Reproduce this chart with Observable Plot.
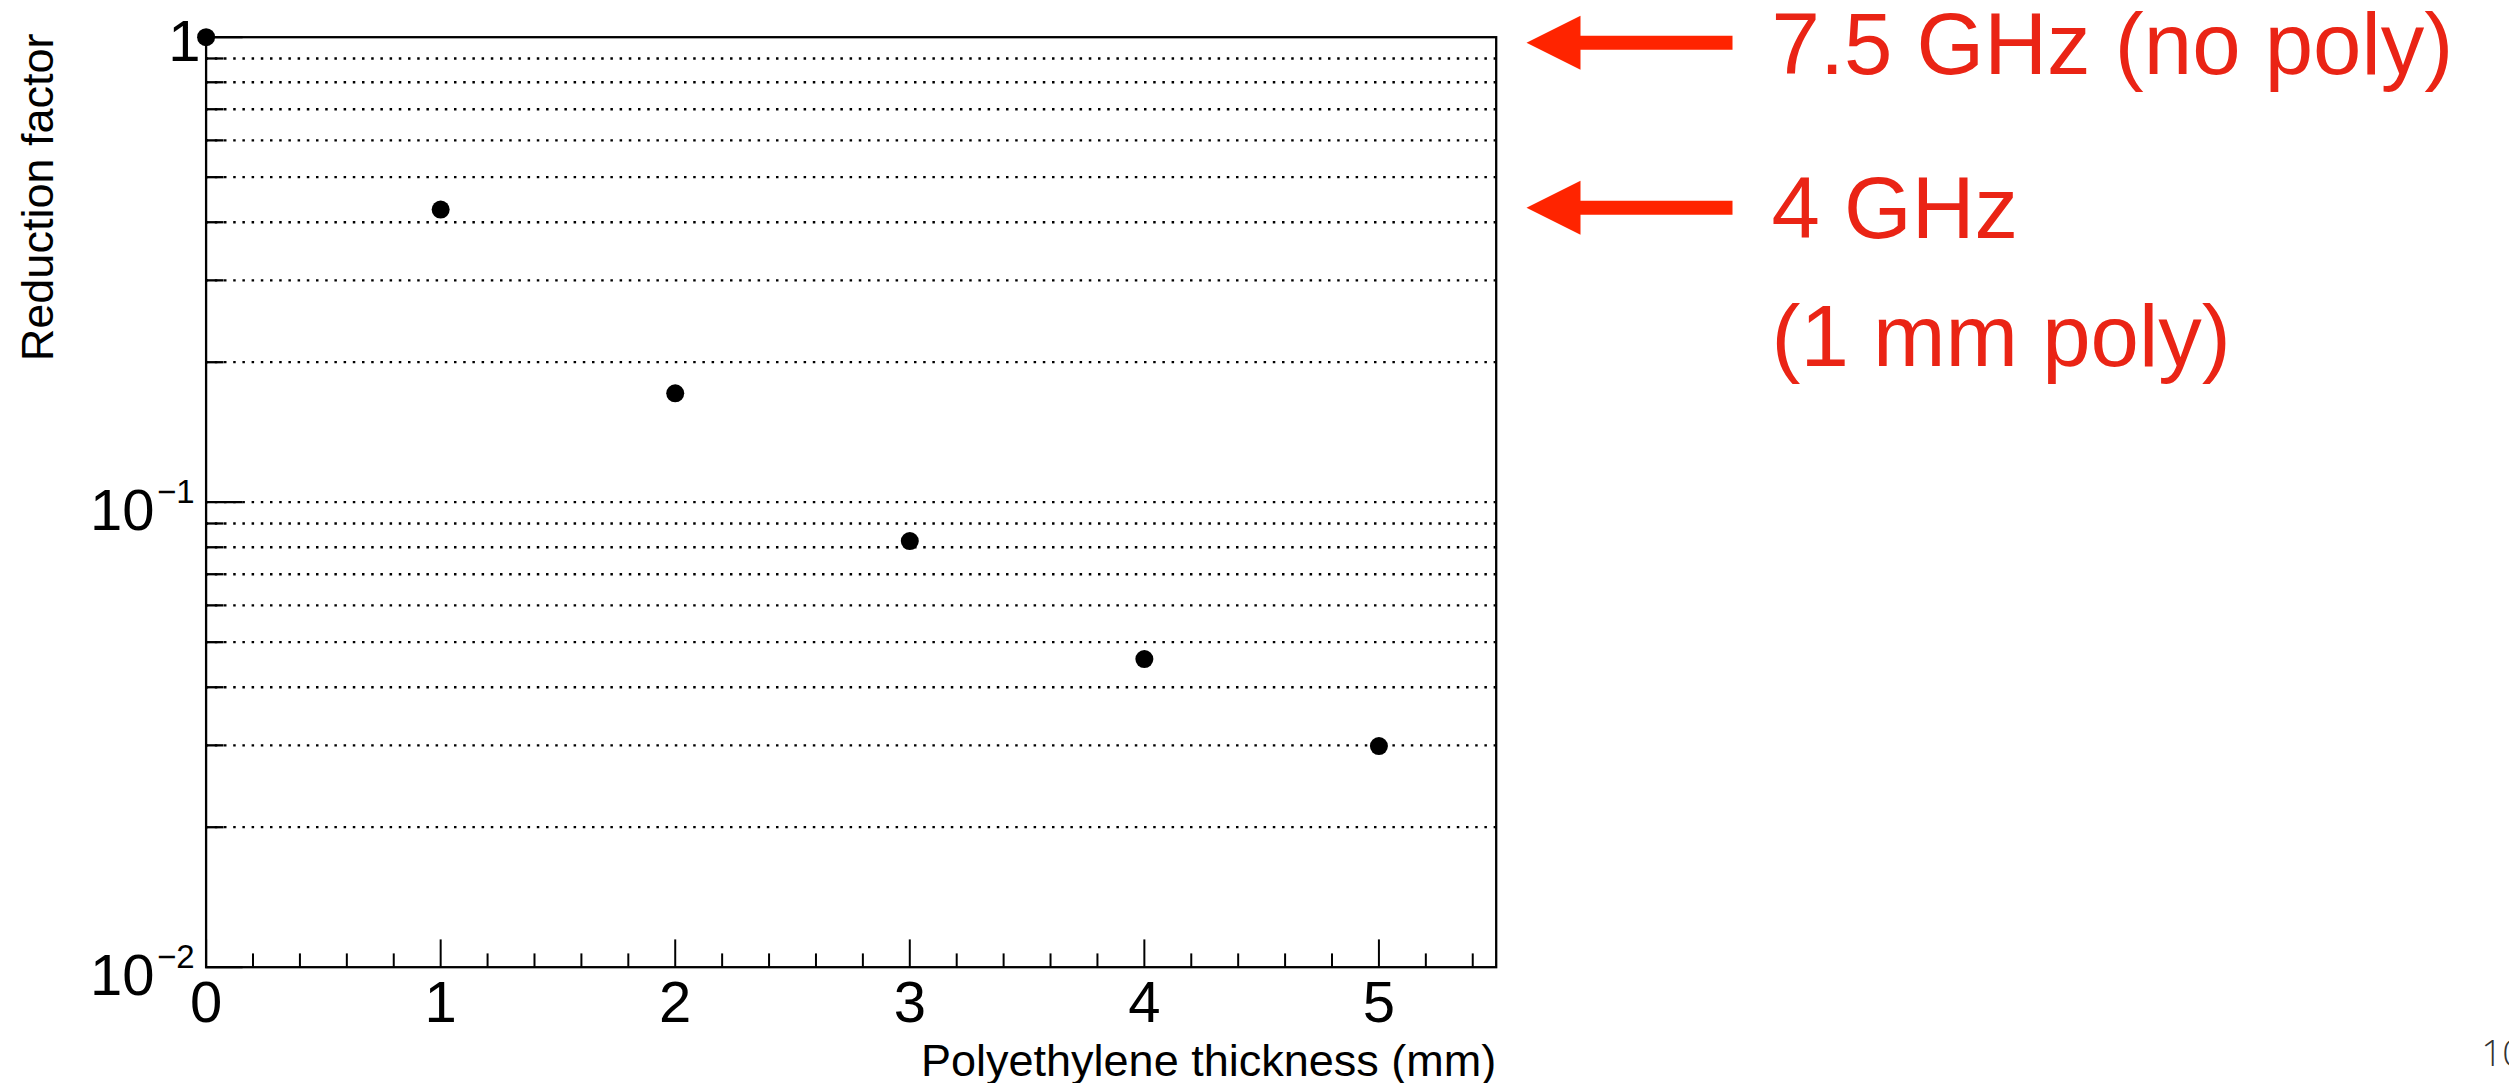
<!DOCTYPE html>
<html>
<head>
<meta charset="utf-8">
<script src="https://cdn.jsdelivr.net/npm/d3@7"></script>
<script src="https://cdn.jsdelivr.net/npm/@observablehq/plot@0.6"></script>
<style>
  html, body { margin: 0; padding: 0; background: #fff; overflow: hidden; }
  #chart svg { display: block; }
</style>
</head>
<body>
<div id="chart"></div>
<script>
// ---- data ----
const thickness = [0, 1, 2, 3, 4, 5];
const reduction = [1.0, 0.426, 0.1715, 0.0825, 0.0460, 0.0299];

const xMajorTicks = [0, 1, 2, 3, 4, 5];
const xTickLabels = ["0", "1", "2", "3", "4", "5"];
const xMinorTicks = [0.2, 0.4, 0.6, 0.8, 1.2, 1.4, 1.6, 1.8, 2.2, 2.4, 2.6, 2.8,
                     3.2, 3.4, 3.6, 3.8, 4.2, 4.4, 4.6, 4.8, 5.2, 5.4];

const yMajorTicks = [1, 0.1, 0.01];
const yTickMantissa = ["1", "10", "10"];
const yTickExponent = ["", "\u22121", "\u22122"];
const yMinorTicks = [0.9, 0.8, 0.7, 0.6, 0.5, 0.4, 0.3, 0.2,
                     0.09, 0.08, 0.07, 0.06, 0.05, 0.04, 0.03, 0.02];
const yGridLines = [0.9, 0.8, 0.7, 0.6, 0.5, 0.4, 0.3, 0.2, 0.1,
                    0.09, 0.08, 0.07, 0.06, 0.05, 0.04, 0.03, 0.02];

const xTitle = "Polyethylene thickness (mm)";
const yTitle = "Reduction factor";

const annotationLevels = [0.973, 0.43];
const annotationTexts = ["7.5 GHz (no poly)", "4 GHz\n(1 mm poly)"];
const pageNumber = "10";

// ---- layout ----
const W = 2509, H = 1083;
const mL = 205.6, mR = W - 1495.7, mT = 36.7, mB = H - 966.7;
const frameW = W - mL - mR, frameH = H - mT - mB;

const points = thickness.map((t, i) => ({x: t, y: reduction[i]}));
const yLabels = yMajorTicks.map((v, i) => ({y: v, m: yTickMantissa[i], e: yTickExponent[i]}));
const annotations = annotationLevels.map((v, i) => ({y: v, text: annotationTexts[i]}));

const RED_ARROW = "#ff2400";
const RED_TEXT = "#ea2415";

// filled arrow pointing left, tip at origin
const arrowSymbol = {
  draw(ctx) {
    ctx.moveTo(0, 0);
    ctx.lineTo(54, -27);
    ctx.lineTo(54, -7);
    ctx.lineTo(206, -7);
    ctx.lineTo(206, 7);
    ctx.lineTo(54, 7);
    ctx.lineTo(54, 27);
    ctx.closePath();
  }
};

const chart = Plot.plot({
  width: W,
  height: H,
  marginLeft: mL,
  marginRight: mR,
  marginTop: mT,
  marginBottom: mB,
  style: {fontFamily: "'Liberation Sans', Arial, Helvetica, sans-serif", background: "#fff", color: "#000"},
  x: {domain: [0, 5.5], axis: null},
  y: {type: "log", domain: [0.01, 1], axis: null},
  marks: [
    // dotted grid
    Plot.ruleY(yGridLines, {y: d => d, stroke: "#000", strokeWidth: 2.3, strokeDasharray: "2.5,6.7"}),
    // frame
    Plot.frame({stroke: "#000", strokeWidth: 2.3}),
    // x ticks
    Plot.tickX(xMajorTicks, {x: d => d, stroke: "#000", strokeWidth: 2, insetTop: frameH - 27.3}),
    Plot.tickX(xMinorTicks, {x: d => d, stroke: "#000", strokeWidth: 2, insetTop: frameH - 13.3}),
    // y ticks
    Plot.tickY(yMajorTicks, {y: d => d, stroke: "#000", strokeWidth: 2.3, insetRight: frameW - 37}),
    Plot.tickY(yMinorTicks, {y: d => d, stroke: "#000", strokeWidth: 2.3, insetRight: frameW - 18}),
    // x tick labels
    Plot.text(xMajorTicks, {x: d => d, text: (d, i) => xTickLabels[i], frameAnchor: "bottom",
      lineAnchor: "top", dy: 14, fontSize: 58, fill: "#000"}),
    // y tick labels (mantissa without exponent)
    Plot.text(yLabels.filter(d => !d.e), {y: "y", text: "m", frameAnchor: "left", textAnchor: "end",
      lineAnchor: "bottom", dx: -5.6, dy: 23.5, fontSize: 58, fill: "#000"}),
    // y tick labels (mantissa with exponent)
    Plot.text(yLabels.filter(d => d.e), {y: "y", text: "m", frameAnchor: "left", textAnchor: "end",
      lineAnchor: "bottom", dx: -51.6, dy: 28, fontSize: 58, fill: "#000"}),
    Plot.text(yLabels.filter(d => d.e), {y: "y", text: "e", frameAnchor: "left", textAnchor: "end",
      lineAnchor: "bottom", dx: -11.6, dy: 1, fontSize: 33, fill: "#000"}),
    // axis titles
    Plot.text([xTitle], {text: d => d, frameAnchor: "bottom-right", textAnchor: "end",
      lineAnchor: "bottom", dy: 109, fontSize: 45, fill: "#000"}),
    Plot.text([yTitle], {text: d => d, frameAnchor: "top-left", rotate: -90, textAnchor: "end",
      lineAnchor: "bottom", dx: -153.6, dy: -3.7, fontSize: 45, fill: "#000"}),
    // data points
    Plot.dot(points, {x: "x", y: "y", r: 9, fill: "#000", stroke: "none"}),
    // annotations
    Plot.dot(annotations, {y: "y", frameAnchor: "right", dx: 30.3, symbol: arrowSymbol, r: 10,
      fill: RED_ARROW, stroke: "none"}),
    Plot.text(annotations, {y: "y", text: "text", frameAnchor: "right", textAnchor: "start",
      lineAnchor: "top", dx: 275.3, dy: -60, lineHeight: 1.47, fontSize: 87, fill: RED_TEXT}),
    // page number
    Plot.text([pageNumber], {text: d => d, frameAnchor: "bottom-right", textAnchor: "start",
      lineAnchor: "bottom", dx: 985, dy: 99, fontSize: 37, fill: "#333",
      fontFamily: "'Open Sans', 'DejaVu Sans', sans-serif", fontWeight: 300})
  ]
});

document.getElementById("chart").appendChild(chart);
</script>
</body>
</html>
